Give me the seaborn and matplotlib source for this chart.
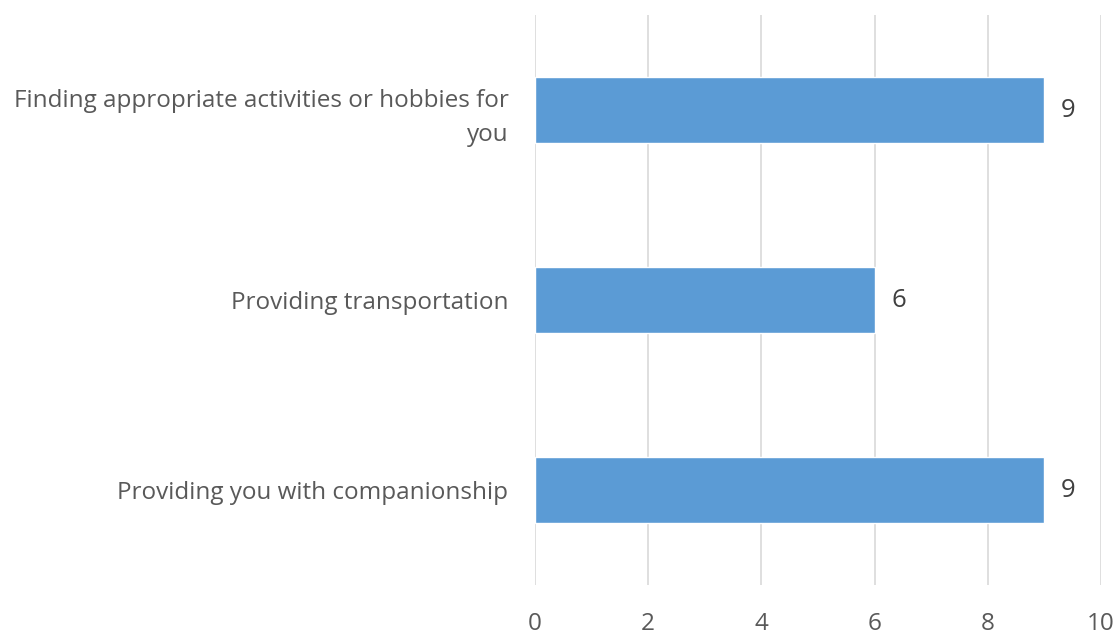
import seaborn as sns
import matplotlib.pyplot as plt
import pandas as pd

categories = [
    "Finding appropriate activities or hobbies for\nyou",
    "Providing transportation",
    "Providing you with companionship",
]
counts = [9, 6, 9]
x_ticks = [0, 2, 4, 6, 8, 10]

df = pd.DataFrame({"category": categories, "count": counts})

sns.set_theme(style="white")
plt.rcParams["font.family"] = ["Open Sans", "DejaVu Sans"]

fig = plt.figure(figsize=(11.19, 6.34), dpi=100)
ax = fig.add_axes([0.478, 0.077, 0.506, 0.899])

sns.barplot(data=df, x="count", y="category", color="#5B9BD5",
            saturation=1, width=0.35, orient="h", ax=ax, zorder=3)

ax.set_xlim(0, 10)
ax.set_ylim(2.5, -0.5)
ax.set_xticks(x_ticks)
ax.grid(axis="x", color="#D9D9D9", linewidth=1.2, zorder=0)
ax.set_axisbelow(True)
for s in ax.spines.values():
    s.set_visible(False)

ax.tick_params(axis="both", length=0, labelsize=17.5, colors="#595959")
ax.tick_params(axis="x", pad=19)
ax.tick_params(axis="y", pad=19)
for lbl in ax.get_yticklabels():
    lbl.set_horizontalalignment("right")
    lbl.set_linespacing(1.55)
ax.set_xlabel("")
ax.set_ylabel("")

ax.bar_label(ax.containers[0], labels=[str(c) for c in counts],
             padding=12, fontsize=18.5, color="#404040")

fig.savefig("out.png", dpi=100)
